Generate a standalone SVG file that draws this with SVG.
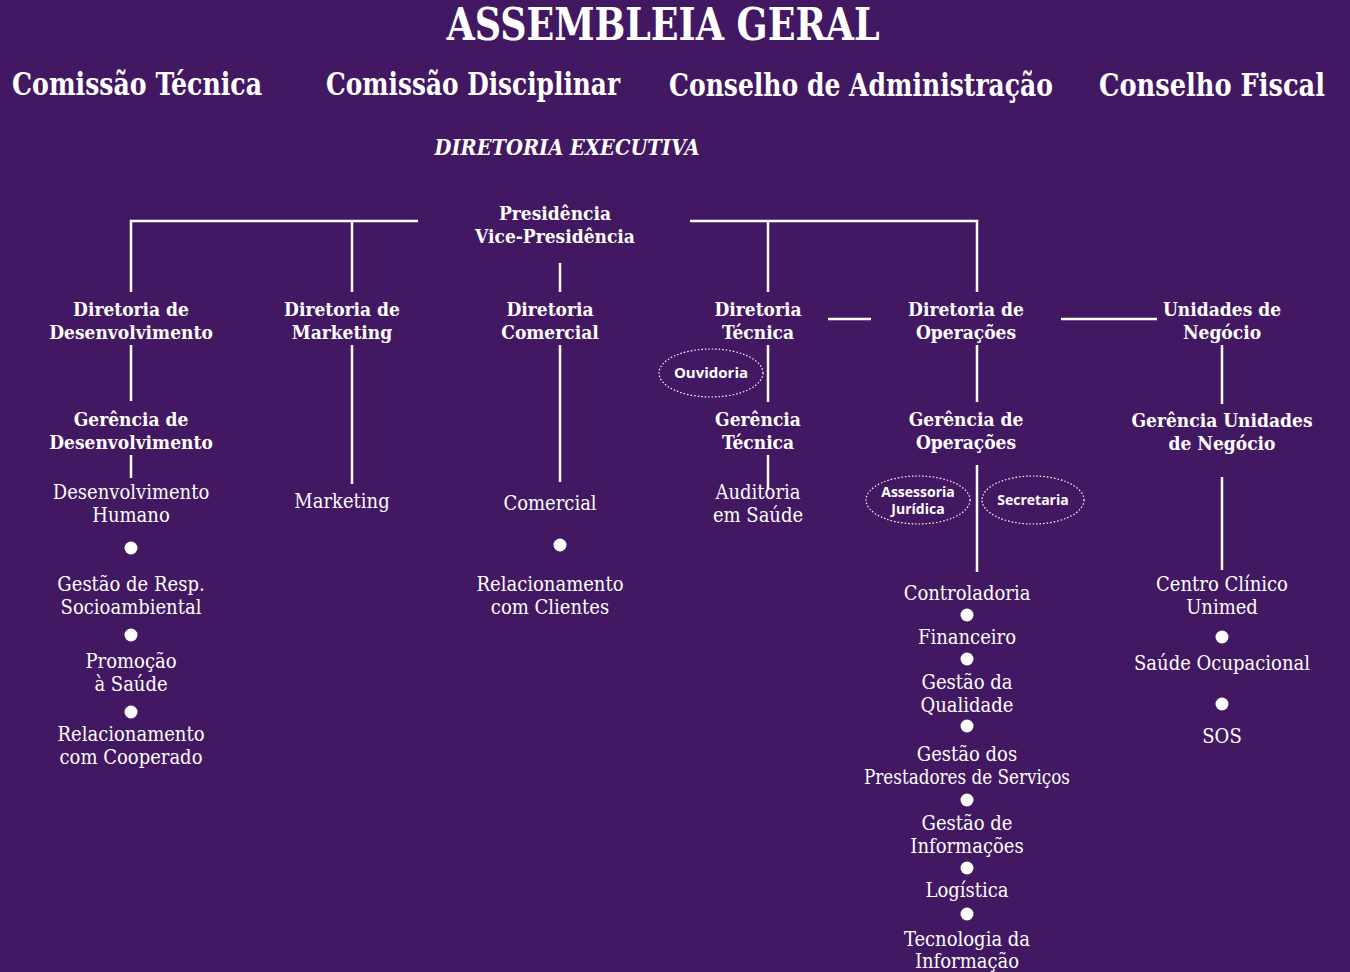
<svg xmlns="http://www.w3.org/2000/svg" width="1350" height="972" viewBox="0 0 1350 972">
<style>
text{fill:#fff;text-anchor:middle;font-family:"DejaVu Serif",serif;font-stretch:condensed}
.t{font-size:44px;font-weight:bold}
.h{font-size:32px;font-weight:bold}
.de{font-size:22px;font-weight:bold;font-style:italic}
.b{font-size:19px;font-weight:bold}
.r{font-size:20px}
.s{font-size:15px;font-weight:bold;font-family:"Open Sans","DejaVu Sans",sans-serif;font-stretch:normal}
.ln{stroke:#fff;stroke-width:2.5;fill:none}
.el{stroke:#fff;stroke-width:1.2;stroke-dasharray:1.5 2;fill:none}
.dot{fill:#fff}
</style>
<rect width="1350" height="972" fill="#431862"/>
<g id="header">
<text class="t" x="663" y="40" textLength="433" lengthAdjust="spacingAndGlyphs">ASSEMBLEIA GERAL</text>
<text class="h" x="137" y="95" textLength="250" lengthAdjust="spacingAndGlyphs">Comissão Técnica</text>
<text class="h" x="473" y="95" textLength="294" lengthAdjust="spacingAndGlyphs">Comissão Disciplinar</text>
<text class="h" x="861" y="96" textLength="384" lengthAdjust="spacingAndGlyphs">Conselho de Administração</text>
<text class="h" x="1212" y="96" textLength="226" lengthAdjust="spacingAndGlyphs">Conselho Fiscal</text>
<text class="de" x="567" y="155" textLength="265" lengthAdjust="spacingAndGlyphs">DIRETORIA EXECUTIVA</text>
</g>
<g id="connectors">
<path class="ln" d="M131 292V221H418M352 221V292M690 221H977V292M768 221V292M560 263V292"/>
<path class="ln" d="M828 319H871M1061 319H1157"/>
<path class="ln" d="M131 345V401M352 345V484M560 345V482M768 345V402M977 345V402M1222 345V404"/>
<path class="ln" d="M131 455V478M768 455V490M977 465V572M1222 477V570"/>
</g>
<g id="presidencia"><text class="b" x="555" y="220">Presidência</text><text class="b" x="555" y="243">Vice-Presidência</text></g>
<g id="dir-desenvolvimento"><text class="b" x="131" y="316">Diretoria de</text><text class="b" x="131" y="339">Desenvolvimento</text></g>
<g id="dir-marketing"><text class="b" x="342" y="316">Diretoria de</text><text class="b" x="342" y="339">Marketing</text></g>
<g id="dir-comercial"><text class="b" x="550" y="316">Diretoria</text><text class="b" x="550" y="339">Comercial</text></g>
<g id="dir-tecnica"><text class="b" x="758" y="316">Diretoria</text><text class="b" x="758" y="339">Técnica</text></g>
<g id="dir-operacoes"><text class="b" x="966" y="316">Diretoria de</text><text class="b" x="966" y="339">Operações</text></g>
<g id="unidades"><text class="b" x="1222" y="316">Unidades de</text><text class="b" x="1222" y="339">Negócio</text></g>
<g id="ouvidoria"><ellipse class="el" cx="711" cy="373" rx="52" ry="24"/><text class="s" x="711" y="378">Ouvidoria</text></g>
<g id="ger-desenvolvimento"><text class="b" x="131" y="426">Gerência de</text><text class="b" x="131" y="449">Desenvolvimento</text></g>
<g id="ger-tecnica"><text class="b" x="758" y="426">Gerência</text><text class="b" x="758" y="449">Técnica</text></g>
<g id="ger-operacoes"><text class="b" x="966" y="426">Gerência de</text><text class="b" x="966" y="449">Operações</text></g>
<g id="ger-unidades"><text class="b" x="1222" y="427">Gerência Unidades</text><text class="b" x="1222" y="450">de Negócio</text></g>
<g id="assessoria"><ellipse class="el" cx="918" cy="500" rx="52" ry="24"/><text class="s" x="918" y="497" style="font-size:14px">Assessoria</text><text class="s" x="918" y="514" style="font-size:14px">Jurídica</text></g>
<g id="secretaria"><ellipse class="el" cx="1033" cy="500" rx="51" ry="24"/><text class="s" x="1033" y="505" style="font-size:14px">Secretaria</text></g>
<g id="desenv-itens">
<text class="r" x="131" y="499">Desenvolvimento</text><text class="r" x="131" y="522">Humano</text>
<circle class="dot" cx="131" cy="548" r="6.5"/>
<text class="r" x="131" y="591">Gestão de Resp.</text><text class="r" x="131" y="614">Socioambiental</text>
<circle class="dot" cx="131" cy="635" r="6.5"/>
<text class="r" x="131" y="668">Promoção</text><text class="r" x="131" y="691">à Saúde</text>
<circle class="dot" cx="131" cy="712" r="6.5"/>
<text class="r" x="131" y="741">Relacionamento</text><text class="r" x="131" y="764">com Cooperado</text>
</g>
<g id="marketing"><text class="r" x="342" y="508">Marketing</text></g>
<g id="comercial-itens">
<text class="r" x="550" y="510">Comercial</text>
<circle class="dot" cx="560" cy="545" r="6.5"/>
<text class="r" x="550" y="591">Relacionamento</text><text class="r" x="550" y="614">com Clientes</text>
</g>
<g id="auditoria"><text class="r" x="758" y="499">Auditoria</text><text class="r" x="758" y="522">em Saúde</text></g>
<g id="operacoes-itens">
<text class="r" x="967" y="600">Controladoria</text>
<circle class="dot" cx="967" cy="615" r="6.5"/>
<text class="r" x="967" y="644">Financeiro</text>
<circle class="dot" cx="967" cy="659" r="6.5"/>
<text class="r" x="967" y="689">Gestão da</text><text class="r" x="967" y="712">Qualidade</text>
<circle class="dot" cx="967" cy="726" r="6.5"/>
<text class="r" x="967" y="761">Gestão dos</text><text class="r" x="967" y="784" textLength="206" lengthAdjust="spacingAndGlyphs">Prestadores de Serviços</text>
<circle class="dot" cx="967" cy="800" r="6.5"/>
<text class="r" x="967" y="830">Gestão de</text><text class="r" x="967" y="853">Informações</text>
<circle class="dot" cx="967" cy="868" r="6.5"/>
<text class="r" x="967" y="897">Logística</text>
<circle class="dot" cx="967" cy="914" r="6.5"/>
<text class="r" x="967" y="946">Tecnologia da</text><text class="r" x="967" y="968">Informação</text>
</g>
<g id="unidades-itens">
<text class="r" x="1222" y="591">Centro Clínico</text><text class="r" x="1222" y="614">Unimed</text>
<circle class="dot" cx="1222" cy="637" r="6.5"/>
<text class="r" x="1222" y="670">Saúde Ocupacional</text>
<circle class="dot" cx="1222" cy="704" r="6.5"/>
<text class="r" x="1222" y="743">SOS</text>
</g>
</svg>
